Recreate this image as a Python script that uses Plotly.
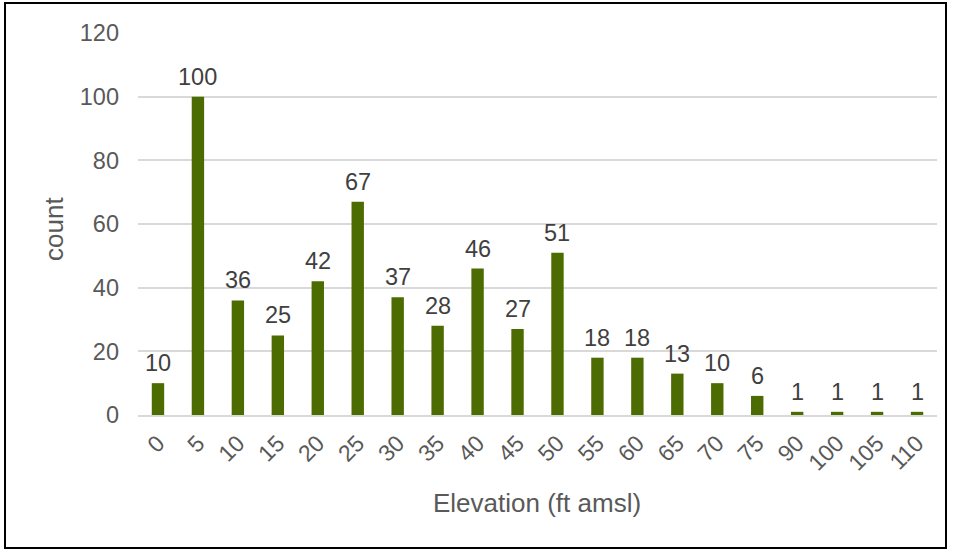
import plotly.graph_objects as go

# Elevation bins (ft amsl) and number of samples per bin
elevation_bins = ["0", "5", "10", "15", "20", "25", "30", "35", "40", "45",
                  "50", "55", "60", "65", "70", "75", "90", "100", "105", "110"]
counts = [10, 100, 36, 25, 42, 67, 37, 28, 46, 27,
          51, 18, 18, 13, 10, 6, 1, 1, 1, 1]
y_ticks = [0, 20, 40, 60, 80, 100, 120]

W, H = 954, 550
L, R, T, B = 138, 17, 33, 135
pw, ph = W - L - R, H - T - B

def px_x(x):
    return (x - L) / pw

def px_y(y):
    return (H - B - y) / ph

font_color = "#595959"
font_family = "Liberation Sans, Arial, sans-serif"

fig = go.Figure(go.Bar(
    x=elevation_bins,
    y=counts,
    marker=dict(color="#4C6B00", line=dict(width=0)),
))

# value labels above each bar (category axis positions are addressed by index)
for i, val in enumerate(counts):
    fig.add_annotation(
        x=i, y=val, xref="x", yref="y", text=str(val),
        showarrow=False, yanchor="bottom", yshift=5,
        font=dict(size=23.5, color="#404040", family=font_family),
    )

fig.update_layout(
    width=W, height=H,
    margin=dict(l=L, r=R, t=T, b=B),
    paper_bgcolor="white", plot_bgcolor="white",
    bargap=0.69,
    showlegend=False,
    font=dict(family=font_family, color=font_color),
    xaxis=dict(
        type="category",
        categoryorder="array", categoryarray=elevation_bins,
        range=[-0.5, len(elevation_bins) - 0.5],
        tickmode="array", tickvals=elevation_bins, ticktext=elevation_bins,
        tickangle=-45,
        tickfont=dict(size=23, color=font_color),
        showgrid=False,
        showline=True, linecolor="#d9d9d9", linewidth=1.5,
        ticks="", ticklabelstandoff=4,
    ),
    yaxis=dict(
        range=[0, 120],
        tickvals=y_ticks,
        tickfont=dict(size=23.5, color=font_color),
        showgrid=True, gridcolor="#d9d9d9", gridwidth=1.5,
        zeroline=False,
        showline=False,
        ticks="", ticklabelstandoff=18,
    ),
    shapes=[
        dict(type="rect", xref="paper", yref="paper",
             x0=px_x(5), x1=px_x(946), y0=px_y(548), y1=px_y(3),
             line=dict(color="black", width=2), fillcolor="rgba(0,0,0,0)",
             layer="below"),
    ],
)

fig.add_annotation(text="count", xref="paper", yref="paper",
                   x=px_x(54), y=px_y(229), xanchor="center", yanchor="middle",
                   textangle=-90, showarrow=False,
                   font=dict(size=26, color=font_color))
fig.add_annotation(text="Elevation (ft amsl)", xref="paper", yref="paper",
                   x=px_x(537), y=px_y(503), xanchor="center", yanchor="middle",
                   showarrow=False,
                   font=dict(size=26, color=font_color))

fig.write_html("out.html")
